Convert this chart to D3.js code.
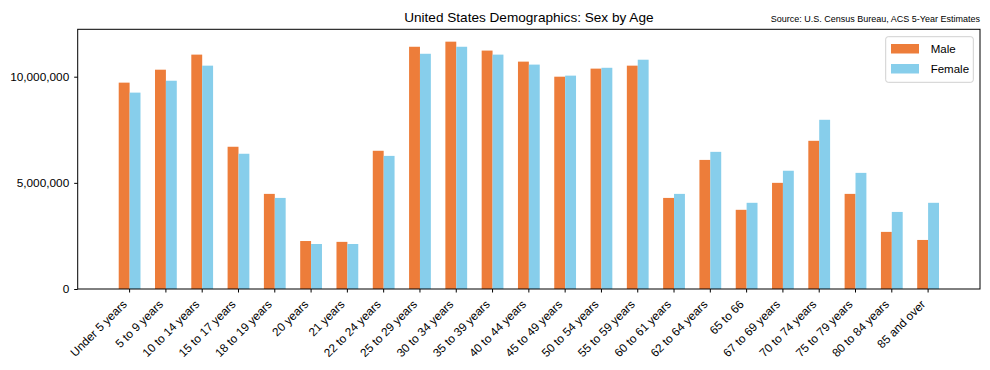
<!DOCTYPE html>
<html lang="en">
<head>
    <meta charset="UTF-8">
    <title>United States Demographics: Sex by Age</title>
    <script src="https://d3js.org/d3.v7.min.js"></script>
    <style>
        body { margin: 0; background: #fff; }
        svg { display: block; font-family: "Liberation Sans", Arial, sans-serif; }
    </style>
</head>
<body>
    <script>
        const ageGroups = ["Under 5 years", "5 to 9 years", "10 to 14 years", "15 to 17 years",
            "18 to 19 years", "20 years", "21 years", "22 to 24 years", "25 to 29 years",
            "30 to 34 years", "35 to 39 years", "40 to 44 years", "45 to 49 years",
            "50 to 54 years", "55 to 59 years", "60 to 61 years", "62 to 64 years",
            "65 to 66", "67 to 69 years", "70 to 74 years", "75 to 79 years",
            "80 to 84 years", "85 and over"];
        const male = [9720000, 10330000, 11040000, 6700000, 4480000, 2260000, 2220000, 6510000,
            11410000, 11650000, 11230000, 10710000, 10000000, 10380000, 10520000, 4290000,
            6080000, 3730000, 5000000, 6980000, 4480000, 2690000, 2310000];
        const female = [9250000, 9810000, 10520000, 6370000, 4290000, 2120000, 2120000, 6270000,
            11080000, 11410000, 11040000, 10570000, 10050000, 10420000, 10800000, 4480000,
            6460000, 4060000, 5570000, 7970000, 5470000, 3630000, 4060000];
        const yTicks = [0, 5000000, 10000000];

        const w = 990, h = 370;
        const plotL = 77.7, plotR = 980, plotT = 29.3, plotB = 289;

        const svg = d3.select("body").append("svg")
            .attr("width", w)
            .attr("height", h);

        const x = d3.scaleBand()
            .domain(ageGroups)
            .range([plotL, plotR])
            .paddingInner(0.4)
            .paddingOuter(1.13);

        const yMax = d3.max(male.concat(female)) * 1.05;
        const y = d3.scaleLinear()
            .domain([0, yMax])
            .range([plotB, plotT]);

        const bw = x.bandwidth() / 2;

        svg.append("g").selectAll("rect")
            .data(ageGroups)
            .enter()
            .append("rect")
            .attr("x", d => x(d))
            .attr("y", (d, i) => y(male[i]))
            .attr("width", bw)
            .attr("height", (d, i) => plotB - y(male[i]))
            .attr("fill", "#ED7D3A");

        svg.append("g").selectAll("rect")
            .data(ageGroups)
            .enter()
            .append("rect")
            .attr("x", d => x(d) + bw)
            .attr("y", (d, i) => y(female[i]))
            .attr("width", bw)
            .attr("height", (d, i) => plotB - y(female[i]))
            .attr("fill", "#87CEEB");

        // axes
        const xAxis = svg.append("g")
            .attr("transform", `translate(0,${plotB})`)
            .call(d3.axisBottom(x).tickSizeOuter(0).tickSize(3.5));
        xAxis.select(".domain").remove();
        xAxis.selectAll("text")
            .attr("font-size", 11.8)
            .attr("fill", "#000")
            .attr("y", 0).attr("dy", 0)
            .attr("text-anchor", "end")
            .attr("transform", "translate(-2,16) rotate(-45)");

        const yAxis = svg.append("g")
            .attr("transform", `translate(${plotL},0)`)
            .call(d3.axisLeft(y).tickValues(yTicks).tickFormat(d3.format(",")).tickSize(3.5).tickPadding(5));
        yAxis.select(".domain").remove();
        yAxis.selectAll("text").attr("font-size", 11.8).attr("fill", "#000");

        // frame
        svg.append("rect")
            .attr("x", plotL).attr("y", plotT)
            .attr("width", plotR - plotL).attr("height", plotB - plotT)
            .attr("fill", "none").attr("stroke", "#000").attr("stroke-width", 1);

        // titles
        svg.append("text")
            .attr("x", (plotL + plotR) / 2).attr("y", plotT - 7)
            .attr("text-anchor", "middle")
            .attr("font-size", 13.6)
            .text("United States Demographics: Sex by Age");
        svg.append("text")
            .attr("x", plotR).attr("y", plotT - 7)
            .attr("text-anchor", "end")
            .attr("font-size", 9)
            .text("Source: U.S. Census Bureau, ACS 5-Year Estimates");

        // legend
        const leg = svg.append("g");
        leg.append("rect")
            .attr("x", 885.7).attr("y", 36.7).attr("width", 87.6).attr("height", 45.6)
            .attr("rx", 2.5).attr("fill", "#fff").attr("fill-opacity", 0.8)
            .attr("stroke", "#d0d0d0");
        const series = [{ name: "Male", color: "#ED7D3A" }, { name: "Female", color: "#87CEEB" }];
        series.forEach((s, i) => {
            leg.append("rect")
                .attr("x", 891).attr("y", 44 + i * 20)
                .attr("width", 28).attr("height", 9.5)
                .attr("fill", s.color);
            leg.append("text")
                .attr("x", 930.7).attr("y", 49 + i * 20)
                .attr("dy", "0.35em")
                .attr("font-size", 11.5)
                .text(s.name);
        });
    </script>
</body>
</html>
